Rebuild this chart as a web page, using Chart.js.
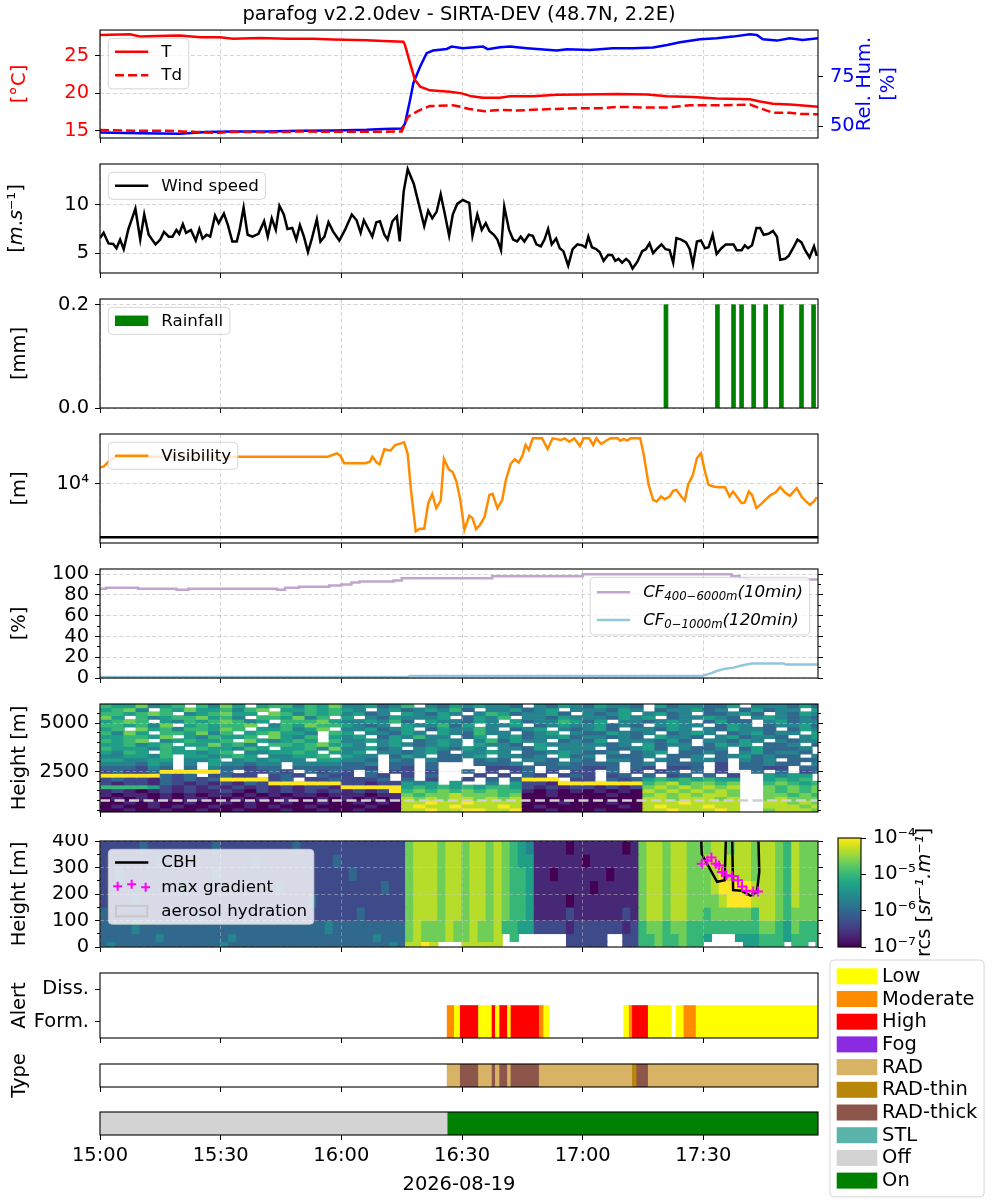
<!DOCTYPE html>
<html>
<head>
<meta charset="utf-8">
<title>parafog v2.2.0dev - SIRTA-DEV</title>
<script src="https://cdn.jsdelivr.net/npm/chart.js@4.4.1/dist/chart.umd.min.js"></script>
<style>
html, body { margin: 0; padding: 0; background: #fff; }
#fig { position: relative; width: 1000px; height: 1200px; overflow: hidden; background: #fff; }
#fig canvas { position: absolute; }
</style>
</head>
<body>
<div id="fig"></div>
<script>
// ======================= DATA =======================
const TITLE = 'parafog v2.2.0dev - SIRTA-DEV (48.7N, 2.2E)';
const DATE_LABEL = '2026-08-19';
const X_MAX = 178.5;                       // minutes after 15:00
const timeTicks = [0, 30, 60, 90, 120, 150];
const timeLabels = ['15:00', '15:30', '16:00', '16:30', '17:00', '17:30'];

// Temperature / dew point [°C], relative humidity [%]
const tempT = [0,7.5,9.9,16.6,19.9,24.9,29.8,33.1,39.8,46.4,53.0,58.0,66.3,70.4,75.4,75.8,77.1,78.3,79.6,82.0,87.0,89.9,92.4,95.2,99.4,101.9,107.6,113.6,120.1,128.5,136.0,141.0,147.4,153.3,161.6,164.1,167.3,171.5,174.0,178.5];
const tempV = [27.8,27.9,27.6,27.7,27.75,27.5,27.5,27.3,27.4,27.3,27.3,27.2,27.1,27.0,26.9,26.5,24.0,21.8,20.9,20.4,20.2,20.0,19.6,19.4,19.4,19.6,19.6,19.8,19.85,19.9,19.85,19.6,19.5,19.3,19.2,18.9,18.6,18.5,18.4,18.2];
const tdT = [0,8.2,16.7,29.1,33.1,41.5,49.7,58.0,66.4,75.0,76.6,79.6,82.0,87.8,89.8,91.8,95.7,99.4,103.6,107.6,111.9,118.6,124.3,128.5,136.7,140.9,146.6,153.3,161.6,164.1,167.3,171.5,174.0,178.5];
const tdV = [15.1,15.0,15.0,14.7,14.85,14.8,14.9,14.85,14.85,14.9,16.9,17.8,18.3,18.4,18.2,17.9,17.6,17.8,17.7,17.8,17.9,18.0,18.0,18.2,18.1,18.1,18.4,18.4,18.5,18.0,17.4,17.4,17.25,17.2];
const rhT = [0,9.9,19.9,26.5,33.1,41.4,49.7,58.0,66.3,70.4,75.0,75.8,77.1,77.9,79.6,81.2,82.8,86.2,87.4,90.2,95.2,96.4,99.4,101.9,106.1,113.6,116.1,121.8,127.5,132.5,137.5,141.0,144.2,149.2,153.3,157.3,161.6,163.3,164.8,168.3,171.5,174.7,178.5];
const rhV = [47.0,46.6,46.3,47.2,47.5,47.5,47.8,48.0,48.3,48.7,49.0,51.2,63.4,71.7,80.0,86.7,88.0,88.8,90.0,89.2,90.0,88.7,89.7,90.0,89.2,88.0,88.7,88.3,89.2,89.2,89.5,90.8,92.2,93.7,94.2,95.0,96.2,95.8,93.7,93.0,94.2,93.3,94.2];

// Wind speed [m/s]
const windT = [0,0.9,2.1,3.3,4.1,5.0,5.9,7.0,8.8,10.0,11.0,12.1,13.8,15.0,15.9,17.1,18.0,19.0,19.7,20.6,21.4,22.6,23.8,24.7,25.5,26.5,27.4,28.6,29.5,30.8,31.8,32.9,34.0,34.7,35.7,36.7,37.9,39.4,40.8,41.7,42.7,43.7,44.6,45.7,46.6,47.8,48.8,49.7,50.7,51.7,52.7,53.9,54.8,55.8,56.8,58.0,59.5,60.9,62.6,63.8,64.8,65.6,66.6,67.7,68.7,69.6,70.7,71.5,72.7,73.8,74.5,75.5,76.5,78.0,79.3,80.6,81.6,82.6,83.7,84.7,85.7,86.8,87.7,88.8,90.2,91.2,91.8,92.6,93.8,94.9,95.9,96.8,97.9,98.8,99.7,100.5,101.7,102.7,103.7,104.6,105.5,106.6,107.6,108.5,109.6,110.5,111.4,112.3,113.4,114.3,115.2,116.4,117.5,118.7,119.9,120.7,121.4,122.3,123.4,124.2,125.2,126.3,127.3,128.1,128.9,129.8,130.8,131.6,132.4,133.6,134.8,135.7,136.6,137.5,138.6,139.6,140.6,141.6,142.5,143.3,144.5,145.7,146.6,147.4,148.4,149.4,150.4,151.3,152.3,153.3,154.5,155.6,156.6,157.5,158.3,159.5,160.3,161.1,162.1,163.2,164.1,165.0,166.2,167.3,168.3,169.1,170.3,171.2,172.3,173.4,174.4,175.3,176.4,177.5,178.2];
const windV = [6.55,7.1,6.0,5.95,5.5,6.4,5.4,7.4,9.6,6.4,9.0,6.9,5.9,6.4,7.2,6.7,6.7,7.4,7.0,8.0,7.1,7.4,6.3,7.5,6.5,6.9,6.7,8.9,8.1,9.1,7.9,6.2,6.2,7.4,9.7,6.9,6.7,7.0,8.3,6.7,8.6,7.4,9.9,9.0,7.5,7.6,6.4,7.9,6.7,5.1,6.55,8.5,6.2,6.7,8.2,7.2,6.3,7.4,9.0,8.4,7.1,8.4,7.6,6.7,8.2,8.3,6.9,6.4,8.3,8.8,6.2,11.4,13.7,12.2,10.0,7.8,9.4,8.6,9.3,11.1,9.1,6.8,9.0,10.1,10.5,10.3,10.2,6.8,9.0,7.4,8.1,7.3,6.9,6.4,5.3,9.8,7.4,6.4,6.2,6.7,6.2,6.9,6.8,5.9,5.7,6.4,7.5,5.9,6.5,5.5,5.2,3.7,5.4,5.9,5.8,5.6,6.7,5.6,5.4,5.1,4.2,4.8,4.8,4.2,4.4,4.0,4.4,4.1,3.4,4.1,5.2,5.4,6.0,5.0,5.5,5.9,5.4,5.3,4.0,6.55,6.4,6.1,5.4,3.8,6.2,6.3,5.5,5.6,6.9,4.9,5.5,5.9,5.9,5.9,5.3,5.3,5.8,5.5,5.8,7.6,7.6,6.9,7.0,7.3,6.7,4.3,4.4,4.7,5.5,6.4,6.1,5.3,4.55,5.7,4.7];

// Rainfall [mm]
const rainT = [140.7,153.5,157.5,159.5,162.5,165.5,169.4,174.4,177.4];
const rainV = [0.2,0.2,0.2,0.2,0.2,0.2,0.2,0.2,0.2];

// Visibility [m]
const visT = [0,0.9,2.1,3.9,32.6,56.6,57.8,58.9,59.8,60.7,66.0,67.1,67.7,68.7,69.5,70.7,72.2,73.4,74.8,75.6,76.5,77.3,78.5,79.5,80.6,81.6,82.6,83.6,84.7,85.5,86.7,87.7,88.6,89.5,90.6,91.8,92.6,93.5,94.5,95.6,96.8,97.6,98.8,100.0,100.9,102.1,103.1,104.1,105.0,105.8,106.6,107.6,109.9,111.3,112.5,114.6,115.5,116.7,117.9,119.3,120.2,121.6,122.6,123.4,124.6,126.1,126.9,128.7,129.3,130.2,131.0,131.9,134.3,135.2,136.4,137.5,138.4,139.5,140.4,141.6,142.5,143.3,144.5,145.4,146.2,147.4,148.4,149.4,150.4,151.3,152.5,153.6,155.4,156.5,157.4,158.3,159.5,160.3,161.3,162.1,163.2,164.4,165.6,166.8,167.9,169.1,170.3,171.5,173.2,174.4,175.5,176.5,177.5,178.2];
const visV = [12880,13010,14030,15140,15140,15140,15530,15930,15300,13690,13690,14030,15140,13900,13480,16930,16590,18070,18530,18830,15770,9130,4850,5050,5050,7460,8550,6910,7760,14620,12500,11940,10360,8040,4970,6150,5940,5020,5370,6030,8460,8590,6910,7850,10620,13550,14550,13830,15300,18070,16750,20000,20000,17010,20000,19500,20000,19010,20000,17810,20000,20000,18070,20000,18360,19500,20000,20000,19310,19800,19310,20000,20000,15530,9850,7850,7650,8250,7920,8250,8990,9130,8250,7760,9850,11460,14760,15930,12060,9850,9600,9510,9510,8250,8900,8250,7460,7530,8900,8460,6910,7380,7920,8460,8770,9510,8770,8340,9360,8250,7650,7270,7650,8170];
const visLimit = 4430;

// Cloud fraction [%]
const cfHighT = [0,1.5,9.5,19,22,44,46,49.5,57,60,62.5,64.5,73,75,97.5,120,138,157,159,161,162,178.5];
const cfHighV = [87,86,87,86,85,86,85,87,88,89,90,92,93,94,96,98,100,100,98,96,95,95];
const cfLowT = [0,76.5,77,149.5,151.5,153.5,155.5,157.5,159.5,162,170,170.5,178.5];
const cfLowV = [1,1,2,2,4,7,9,10,12,14,14,13,13];

// Backscatter (rcs) level codes: 0 = 1e-7 ... 9 = 1e-4 (1/3 decade per step), '.' = no data
const heatUpColMin = 3;
const heatUpEdges = [6000,5800,5600,5400,5200,5000,4800,4600,4400,4200,4000,3800,3600,3400,3200,3000,2800,2600,2400,2200,2000,1800,1600,1400,1200,1000,800,600,400];
const heatUpRows = [
  ['6557456.6475.5664657','445346.43545443.4354','35443.5344335.444353'],
  ['5674.657556467.55656','54.45345463.445345.4','44354.344534.35344.5'],
  ['665676.456755.764656','4534.54354.46534453.','4345.4534.33453.4354'],
  ['75.645667564.665746.','5.4354445.3546.44354','443545.344543.454343'],
  ['5676.546567645.66675','445463.544354.534465','35.443454.3533.45344'],
  ['665647.565667.465766','5434.544635.445.3454','45343.4544.354.34453'],
  ['56.756466576.556457.','445345.354464.345.43','453.44354.435443.354'],
  ['6475.665746.567554.6','5.44354.543644.345.4','335434.3454.345344.5'],
  ['556657.546556.7546.5','45.354644.35.4534453','44343.5443.453443.45'],
  ['6567.456556.754565.6','44545.3454.463544.34','35.444353.44354.4344'],
  ['556456.557564.665675','54.4543454.5443.5444','4434.5344.3545.334.3'],
  ['6555465.655465.55647','44534.454354.4435.44','4.33453.4334.3533 4.4'.replace(' ', '3')],
  ['5465.655456.445565.5','45.443453.4454.33454','334.345.3343.453443.'],
  ['445546.554565.44556.','544.354.3345.4434.53','4.3334.334.3453433.4'],
  ['554455.445.454544.55','443.43.433.343.443.4','3.443.43.443.434.333'],
  ['444354.4.544344.4444','334.33.3...3334.3343','333.34.333.2.33433.4'],
  ['333243.3.433233.3333','332.32.3....2223.333','223.32.223.2.3322.33'],
  ['23223999993.2232.323','2.3.22.2..3.2.23.2.2','2.3.2.23.3.2..3.3.23'],
  ['99999323.2322.232.32','2.32.2.3...2.2.32.23','2.23.3.23.3.2..5455.'],
  ['2322132323999923.223','2223.3.2..2.3.3999.2','2.32356565655..5656.'],
  ['21221321212132999999','22122545.5..4.522199','9999967867767..67656'],
  ['66665212121212121221','99999565656566521212','2121278787878..76767'],
  ['12101212112102121212','12129676767676610101','0101087878787..76767'],
  ['10110101011010101101','11011767787776700100','0010078787887..77676'],
  ['01010101100101010010','10101878788787800000','0000088788878..78777'],
  ['00101001001010010010','01010889889888800010','0010088898888..88787'],
  ['01001010010010100100','00100898898889801000','0001089888988..88878'],
  ['00100100100100010010','01000889889988900100','0100088988898..78887']
].map(r => r.join(''));
const heatUpRefLine = 1000;

const heatLowColMin = 2;
const heatLowEdges = [400,350,300,250,200,150,100,50,20,0];
const heatLowRows = [
  ['2222232222','2222322222','2222322222','22222222','7888788788787654','1111011111101','78878877','7887887','88768777'],
  ['2222222322','2222222223','2222222223','22222222','7888788788787655','1111110111111','78878877','8888887','88768777'],
  ['2232222222','2222322222','2222222222','23222222','7888788788787665','1101111110111','78878877','7898887','88768777'],
  ['2222222222','3222222222','2232222222','22222322','7888788788787665','1111111011111','78878877','7899998','88768777'],
  ['2222322222','2222222222','2222223222','22222222','7888788788787665','1111011111111','78878877','7789998','88768777'],
  ['3222222222','2232222222','2222222222','22322222','7888788788787665','1111211111121','78878877','6777776','88767777'],
  ['3333433333','3333333333','3333333343','33333333','7877787787786655','2222122222212','67767766','6666666','77657666'],
  ['3333333433','3333334333','3333333333','33334333','787778778778.6..','....22222..22','66766766','5...555','66656666'],
  ['3433333333','3333343333','3333333333','33333343','8898...88888....','....22222..22','66766766','.....55','666.66.6']
].map(r => r.join(''));

// Cloud base height and max gradient [m]
const cbhT = [149.3,149.6,153.4,155.3,155.7,156.4,157.1,157.4,159.5,161.7,163.3,163.9,163.6];
const cbhH = [460,351,246,252,460,null,460,215,212,194,208,283,460];
const gradT = [149.6,151.0,152.0,153.1,153.9,154.6,155.7,157.1,158.6,159.6,160.7,162.4,163.6];
const gradH = [314,326,338,314,308,283,271,268,252,228,212,209,209];

// Alert / type / state segments [start, end] in minutes after 15:00
const alertLowSegs = [[88.1,89.4],[94.1,97.3],[98.3,99.2],[101.3,102.0],[110.3,111.6],[130.2,131.4],[136.3,142.0],[143.2,145.0],[148.2,178.5]];
const alertModerateSegs = [[86.3,88.1],[109.2,110.3],[131.4,132.2],[145.0,148.2]];
const alertHighSegs = [[89.4,94.1],[97.3,98.3],[99.2,101.3],[102.0,109.2],[132.2,136.3]];
const typeRadSegs = [[86.3,89.4],[94.1,97.3],[98.3,99.2],[101.3,102.0],[109.2,132.2],[136.3,178.5]];
const typeRadThinSegs = [[132.2,133.3]];
const typeRadThickSegs = [[89.4,94.1],[97.3,98.3],[99.2,101.3],[102.0,109.2],[133.3,136.3]];
const stateOffSegs = [[0,86.3]];
const stateOnSegs = [[86.3,178.5]];

const alertCategories = ['Diss.', 'Form.'];
const legendLabels = ['Low','Moderate','High','Fog','RAD','RAD-thin','RAD-thick','STL','Off','On'];
const legendColors = ['#ffff00','#ff8c00','#ff0000','#8a2be2','#d8b365','#b8860b','#8c564b','#5ab4ac','#d3d3d3','#008000'];
const colorbarTicks = [1e-7, 1e-6, 1e-5, 1e-4];

// ======================= STYLE / HELPERS =======================
const FS = 19.44, LFS = 16.67;
const PXM = 718 / X_MAX;
const GRID = 'rgba(176,176,176,0.55)';
const HGRID = 'rgba(205,205,205,0.45)';
const DASH = [4, 2.5];
Chart.defaults.font.family = 'DejaVu Sans';
Chart.defaults.font.size = FS;
Chart.defaults.color = '#000';
Chart.defaults.animation = false;
Chart.defaults.responsive = false;
Chart.defaults.events = [];
Chart.defaults.plugins.legend.display = false;
Chart.defaults.plugins.tooltip.enabled = false;
Chart.defaults.elements.point.radius = 0;
Chart.defaults.elements.point.hoverRadius = 0;

const VIR = [[68,1,84],[72,24,106],[71,45,123],[66,64,134],[59,82,139],[51,99,141],[44,114,142],[38,130,142],[33,145,140],[31,160,136],[40,174,128],[63,188,115],[94,201,98],[132,212,75],[173,220,48],[216,226,25],[253,231,37]];
function viridis(f) {
  f = Math.max(0, Math.min(1, f));
  const p = f * 16, i = Math.min(15, Math.floor(p)), r = p - i, a = VIR[i], b = VIR[i + 1];
  return 'rgb(' + [0, 1, 2].map(k => Math.round(a[k] + (b[k] - a[k]) * r)).join(',') + ')';
}
const SUPS = {'-': '⁻', '0': '⁰', '1': '¹', '2': '²', '3': '³', '4': '⁴', '5': '⁵', '6': '⁶', '7': '⁷', '8': '⁸', '9': '⁹'};
const sup = s => String(s).split('').map(c => SUPS[c] || c).join('');

const fig = document.getElementById('fig');
function mk(top, height, left = 0, width = 1000) {
  const c = document.createElement('canvas');
  c.width = width; c.height = height;
  c.style.left = left + 'px'; c.style.top = top + 'px';
  c.style.width = width + 'px'; c.style.height = height + 'px';
  fig.appendChild(c);
  return c.getContext('2d');
}
const pts = (ts, vs) => ts.map((t, i) => ({x: t, y: vs[i]}));
const segData = (list, cat) => list.map(s => ({x: s, y: cat}));

function xAxis(h, o = {}) {
  return {
    type: 'linear', position: 'bottom', min: 0, max: X_MAX, offset: false, weight: 1,
    afterBuildTicks: s => { s.ticks = timeTicks.map(v => ({value: v})); },
    ticks: {display: !!o.labels, autoSkip: false, maxRotation: 0, minRotation: 0, padding: 4, color: '#000', font: {size: FS},
      callback: v => { const i = timeTicks.indexOf(v); return i >= 0 ? timeLabels[i] : ''; }},
    grid: {display: true, drawOnChartArea: !!o.grid, color: o.gridColor || GRID, tickColor: '#000', tickLength: 5, offset: false, z: o.gridZ != null ? o.gridZ : -1},
    border: {display: false, dash: DASH},
    title: {display: !!o.labels, text: DATE_LABEL, color: '#000', font: {size: FS}, padding: {top: 0, bottom: 3.4}},
    afterFit: s => { s.height = h; s.paddingLeft = 0; s.paddingRight = 0; s.paddingTop = 0; s.paddingBottom = 0; }
  };
}
function yAxis(o) {
  const right = o.pos === 'right';
  const ticks = {display: o.showLabels !== false, color: o.color || '#000', padding: right ? 7 : 6, autoSkip: false, maxRotation: 0, font: {size: FS}};
  if (o.type !== 'category') ticks.callback = o.fmt || (v => String(v));
  const ax = {
    type: o.type || 'linear', position: right ? 'right' : 'left', weight: o.weight != null ? o.weight : 1,
    offset: !!o.offset, ticks,
    grid: {display: o.gridDisplay !== false, drawOnChartArea: !!o.grid, drawTicks: true, color: o.gridColor || GRID, tickColor: '#000', tickLength: o.tickLength || 5, offset: false, z: o.gridZ != null ? o.gridZ : -1},
    border: {display: false, dash: DASH},
    title: {display: !!o.title, text: o.title || '', color: o.titleColor || o.color || '#000', font: {size: FS}, padding: {top: 8, bottom: 0}},
    afterFit: s => { s.width = o.width != null ? o.width : (right ? 182 : 100); s.paddingTop = 0; s.paddingBottom = 0; s.paddingLeft = 0; s.paddingRight = 0; }
  };
  if (o.min != null) ax.min = o.min;
  if (o.max != null) ax.max = o.max;
  if (o.labels) ax.labels = o.labels;
  if (o.ticksAt) ax.afterBuildTicks = s => { s.ticks = o.ticksAt.map(v => ({value: v})); };
  return ax;
}
const minorAxis = (pos, min, max, vals, type) => yAxis({pos, min, max, type, ticksAt: vals, showLabels: false, tickLength: 3, width: 0, weight: 0});
const mirrorAxis = (min, max, vals, type) => yAxis({pos: 'right', min, max, type, ticksAt: vals, showLabels: false, width: 182, weight: 1});

function barDs(label, data, color, extra) {
  return Object.assign({type: 'bar', label, data, backgroundColor: color, borderWidth: 0, barPercentage: 1, categoryPercentage: 1, grouped: false}, extra || {});
}
function heatDatasets(rows, edges, col, name) {
  return rows.map((row, k) => barDs(name + ' ' + edges[k + 1] + '-' + edges[k] + ' m',
    row.split('').map((ch, c) => ch === '.' ? null : {x: c * col + col / 2, y: [edges[k + 1], edges[k]], v: Number(ch)}).filter(d => d),
    c => (c.raw && c.raw.v != null) ? viridis(c.raw.v / 9) : 'rgba(0,0,0,0)',
    {barThickness: col * PXM + 0.6, order: 5}));
}

// ---------- plugins ----------
const framePlugin = {
  id: 'frame',
  afterDraw(chart) {
    const {ctx, chartArea: a} = chart;
    ctx.save(); ctx.strokeStyle = '#000'; ctx.lineWidth = 1.1; ctx.setLineDash([]);
    ctx.strokeRect(a.left, a.top, a.right - a.left, a.bottom - a.top);
    ctx.restore();
  }
};
function parseLabel(s) {
  const out = [], re = /_\{([^}]*)\}/g; let last = 0, m;
  while ((m = re.exec(s))) {
    if (m.index > last) out.push({t: s.slice(last, m.index), sub: false});
    out.push({t: m[1], sub: true}); last = re.lastIndex;
  }
  if (last < s.length) out.push({t: s.slice(last), sub: false});
  return out;
}
const lfont = (fs, sub, it) => (it ? 'italic ' : '') + (sub ? fs * 0.7 : fs) + 'px "DejaVu Sans"';
function labelWidth(ctx, s, fs, it) {
  return parseLabel(s).reduce((w, p) => { ctx.font = lfont(fs, p.sub, it); return w + ctx.measureText(p.t).width; }, 0);
}
function drawLabel(ctx, s, x, y, fs, it) {
  ctx.textBaseline = 'middle'; ctx.textAlign = 'left'; ctx.fillStyle = '#000';
  parseLabel(s).forEach(p => { ctx.font = lfont(fs, p.sub, it); ctx.fillText(p.t, x, p.sub ? y + fs * 0.28 : y); x += ctx.measureText(p.t).width; });
}
function drawHandle(ctx, it, x, cy, L) {
  ctx.save();
  if (it.kind === 'line') {
    ctx.strokeStyle = it.color; ctx.lineWidth = 2.5; ctx.setLineDash(it.dash || []);
    ctx.beginPath(); ctx.moveTo(x, cy); ctx.lineTo(x + L.hl, cy); ctx.stroke();
  } else if (it.kind === 'patch') {
    ctx.fillStyle = it.color; ctx.fillRect(x, cy - L.patchH / 2, L.hl, L.patchH);
  } else if (it.kind === 'outline') {
    ctx.strokeStyle = it.color; ctx.lineWidth = 2; ctx.strokeRect(x + 1, cy - L.patchH / 2, L.hl - 2, L.patchH);
  } else if (it.kind === 'cross') {
    ctx.strokeStyle = it.color; ctx.lineWidth = 2;
    [[0.08, -0.5], [0.5, -2.5], [0.92, 0.5]].forEach(([f, dy]) => {
      const px = x + f * L.hl, py = cy + dy;
      ctx.beginPath(); ctx.moveTo(px - 4.5, py); ctx.lineTo(px + 4.5, py); ctx.moveTo(px, py - 4.5); ctx.lineTo(px, py + 4.5); ctx.stroke();
    });
  }
  ctx.restore();
}
function makeLegend(L) {
  return {
    id: 'mplLegend',
    afterDraw(chart) {
      const ctx = chart.ctx, a = chart.chartArea;
      ctx.save();
      const tw = Math.max(...L.items.map(it => labelWidth(ctx, it.label, L.fs, L.italic)));
      const w = L.padX * 2 + L.hl + L.hp + tw, h = L.first * 2 + (L.items.length - 1) * L.step;
      let x0, y0;
      if (L.loc === 'ul') { x0 = a.left + L.off; y0 = a.top + L.off; }
      else if (L.loc === 'ur') { x0 = a.right - L.off - w; y0 = a.top + L.off; }
      else { x0 = L.x; y0 = L.y; }
      ctx.beginPath();
      if (ctx.roundRect) ctx.roundRect(x0, y0, w, h, 4); else ctx.rect(x0, y0, w, h);
      ctx.fillStyle = 'rgba(255,255,255,0.8)'; ctx.fill();
      ctx.strokeStyle = 'rgba(204,204,204,0.8)'; ctx.lineWidth = 1; ctx.stroke();
      L.items.forEach((it, i) => {
        const cy = y0 + L.first + i * L.step, hx = x0 + L.padX;
        drawHandle(ctx, it, hx, cy, L);
        drawLabel(ctx, it.label, hx + L.hl + L.hp, cy + 0.5, L.fs, L.italic);
      });
      ctx.restore();
    }
  };
}
const smallLeg = (loc, items, extra) => makeLegend(Object.assign({loc, items, fs: LFS, padX: 6.7, hl: 33.3, hp: 13, first: 13.5, step: 23.5, off: 8.3, patchH: 10.5}, extra || {}));
function makeRot(items) {
  return {
    id: 'rotText',
    afterDraw(chart) {
      const ctx = chart.ctx;
      items.forEach(it => {
        ctx.save(); ctx.translate(it.x, it.y); ctx.rotate(-Math.PI / 2);
        ctx.fillStyle = it.color || '#000'; ctx.textBaseline = 'middle'; ctx.textAlign = 'left';
        const fonts = it.segs.map(s => (s.it ? 'italic ' : '') + FS + 'px "DejaVu Sans"');
        const ws = it.segs.map((s, i) => { ctx.font = fonts[i]; return ctx.measureText(s.t).width; });
        let x = -ws.reduce((p, q) => p + q, 0) / 2;
        it.segs.forEach((s, i) => { ctx.font = fonts[i]; ctx.fillText(s.t, x, 0); x += ws[i]; });
        ctx.restore();
      });
    }
  };
}
const cbarPlugin = {
  id: 'cbar',
  beforeDatasetsDraw(chart) {
    const a = chart.chartArea, ctx = chart.ctx;
    const g = ctx.createLinearGradient(0, a.bottom, 0, a.top);
    VIR.forEach((c, i) => g.addColorStop(i / 16, 'rgb(' + c.join(',') + ')'));
    ctx.save(); ctx.fillStyle = g; ctx.fillRect(a.left, a.top, a.right - a.left, a.bottom - a.top); ctx.restore();
  }
};

// ======================= CHARTS =======================
// 1. Temperature / RH
new Chart(mk(0, 148), {
  type: 'line',
  data: {datasets: [
    {label: 'T', data: pts(tempT, tempV), borderColor: '#ff0000', borderWidth: 2.5, yAxisID: 'y'},
    {label: 'Td', data: pts(tdT, tdV), borderColor: '#ff0000', borderWidth: 2.5, borderDash: [9, 4], yAxisID: 'y'},
    {label: 'Rel. Hum.', data: pts(rhT, rhV), borderColor: '#0000ff', borderWidth: 2.5, yAxisID: 'y2'}
  ]},
  options: {
    layout: {padding: 0},
    scales: {
      x: xAxis(10, {grid: true}),
      y: yAxis({min: 14.03, max: 28.47, ticksAt: [15, 20, 25], color: '#ff0000', title: '[°C]', grid: true}),
      y2: yAxis({pos: 'right', min: 44.2, max: 98.3, ticksAt: [50, 75], color: '#0000ff'})
    },
    plugins: {title: {display: true, text: TITLE, fullSize: false, color: '#000', font: {size: FS, weight: 'normal'}, padding: {top: 3, bottom: 3.7}}}
  },
  plugins: [framePlugin,
    smallLeg('ul', [{label: 'T', kind: 'line', color: '#ff0000'}, {label: 'Td', kind: 'line', color: '#ff0000', dash: [9, 4]}]),
    makeRot([{x: 865, y: 84, color: '#0000ff', segs: [{t: 'Rel. Hum.'}]}, {x: 889, y: 84, color: '#0000ff', segs: [{t: '[%]'}]}])]
});

// 2. Wind speed
new Chart(mk(160, 123), {
  type: 'line',
  data: {datasets: [{label: 'Wind speed', data: pts(windT, windV), borderColor: '#000', borderWidth: 2.5}]},
  options: {
    layout: {padding: {top: 4, right: 182}},
    scales: {x: xAxis(10, {grid: true}), y: yAxis({min: 2.93, max: 14.24, ticksAt: [5, 10], grid: true})}
  },
  plugins: [framePlugin, smallLeg('ul', [{label: 'Wind speed', kind: 'line', color: '#000'}]),
    makeRot([{x: 17, y: 58.5, segs: [{t: '['}, {t: 'm', it: true}, {t: '.'}, {t: 's', it: true}, {t: '⁻¹'}, {t: ']'}]}])]
});

// 3. Rainfall
new Chart(mk(295, 123), {
  type: 'bar',
  data: {datasets: [barDs('Rainfall', pts(rainT, rainV), '#008000', {barThickness: 4})]},
  options: {
    layout: {padding: {top: 4, right: 182}},
    scales: {x: xAxis(10, {grid: true}), y: yAxis({min: 0, max: 0.211, ticksAt: [0, 0.2], fmt: v => v.toFixed(1), grid: true, title: '[mm]'})}
  },
  plugins: [framePlugin, smallLeg('ul', [{label: 'Rainfall', kind: 'patch', color: '#008000'}])]
});

// 4. Visibility
new Chart(mk(430, 123), {
  type: 'line',
  data: {datasets: [
    {label: 'Visibility', data: pts(visT, visV), borderColor: '#ff8c00', borderWidth: 2.5},
    {label: 'fog visibility limit', data: pts([0, X_MAX], [visLimit, visLimit]), borderColor: '#000', borderWidth: 2.5}
  ]},
  options: {
    layout: {padding: {top: 4}},
    scales: {
      x: xAxis(10, {grid: true}),
      y: yAxis({type: 'logarithmic', min: 4064, max: 21370, ticksAt: [10000], fmt: () => '10' + sup(4), grid: true, title: '[m]'}),
      yR: mirrorAxis(4064, 21370, [10000], 'logarithmic')
    }
  },
  plugins: [framePlugin, smallLeg('ul', [{label: 'Visibility', kind: 'line', color: '#ff8c00'}])]
});

// 5. Cloud fraction
new Chart(mk(565, 123), {
  type: 'line',
  data: {datasets: [
    {label: 'CF 400-6000m (10min)', data: pts(cfHighT, cfHighV), borderColor: '#c2a5cf', borderWidth: 2.5, stepped: 'after'},
    {label: 'CF 0-1000m (120min)', data: pts(cfLowT, cfLowV), borderColor: '#92c5de', borderWidth: 2.5}
  ]},
  options: {
    layout: {padding: {top: 4}},
    scales: {
      x: xAxis(10, {grid: true}),
      y: yAxis({min: 0, max: 105, ticksAt: [0, 20, 40, 60, 80, 100], grid: true, title: '[%]'}),
      yMinL: minorAxis('left', 0, 105, [10, 30, 50, 70, 90]),
      yR: mirrorAxis(0, 105, [0, 20, 40, 60, 80, 100]),
      yMinR: minorAxis('right', 0, 105, [10, 30, 50, 70, 90])
    }
  },
  plugins: [framePlugin, smallLeg('ur', [
    {label: 'CF_{400−6000m}(10min)', kind: 'line', color: '#c2a5cf'},
    {label: 'CF_{0−1000m}(120min)', kind: 'line', color: '#92c5de'}], {italic: true, first: 15, step: 27.6})]
});

// 6. Backscatter 400-6000 m
new Chart(mk(700, 122), {
  type: 'bar',
  data: {datasets: [
    {type: 'line', label: '1000 m', data: pts([0, X_MAX], [heatUpRefLine, heatUpRefLine]), borderColor: '#d0d0d0', borderWidth: 2.5, borderDash: [10, 4.5], order: 0}
  ].concat(heatDatasets(heatUpRows, heatUpEdges, heatUpColMin, 'rcs'))},
  options: {
    layout: {padding: {top: 4}},
    scales: {
      x: xAxis(10, {grid: true, gridColor: HGRID, gridZ: 1}),
      y: yAxis({min: 400, max: 6000, ticksAt: [2500, 5000], grid: true, gridColor: HGRID, gridZ: 1, title: 'Height [m]'}),
      yMinL: minorAxis('left', 400, 6000, [500, 1000, 1500, 2000, 3000, 3500, 4000, 4500, 5500]),
      yR: mirrorAxis(400, 6000, [2500, 5000]),
      yMinR: minorAxis('right', 400, 6000, [500, 1000, 1500, 2000, 3000, 3500, 4000, 4500, 5500])
    }
  },
  plugins: [framePlugin]
});

// 7. Backscatter 0-400 m
new Chart(mk(834, 123), {
  type: 'bar',
  data: {datasets: [
    {type: 'line', label: 'CBH', data: pts(cbhT, cbhH), borderColor: '#000', borderWidth: 2.5, order: 0},
    {type: 'line', label: 'max gradient', data: pts(gradT, gradH), showLine: false, pointStyle: 'cross', pointRadius: 5, pointBorderWidth: 2, pointBorderColor: '#ff00ff', borderColor: '#ff00ff', order: -1}
  ].concat(heatDatasets(heatLowRows, heatLowEdges, heatLowColMin, 'rcs'))},
  options: {
    layout: {padding: {top: 4}},
    scales: {
      x: xAxis(10, {grid: true, gridColor: HGRID, gridZ: 1}),
      y: yAxis({min: 0, max: 400, ticksAt: [0, 100, 200, 300, 400], grid: true, gridColor: HGRID, gridZ: 1, title: 'Height [m]'}),
      yMinL: minorAxis('left', 0, 400, [50, 150, 250, 350]),
      yR: mirrorAxis(0, 400, [0, 100, 200, 300, 400]),
      yMinR: minorAxis('right', 0, 400, [50, 150, 250, 350])
    }
  },
  plugins: [framePlugin, smallLeg('ul', [
    {label: 'CBH', kind: 'line', color: '#000'},
    {label: 'max gradient', kind: 'cross', color: '#ff00ff'},
    {label: 'aerosol hydration', kind: 'outline', color: '#c8c8c8'}], {step: 24.3, first: 13.2})]
});

// 8. Colorbar
new Chart(mk(825, 140, 800, 200), {
  type: 'scatter',
  data: {datasets: []},
  options: {
    layout: {padding: {left: 38, top: 13, bottom: 18, right: 0}},
    scales: {
      x: {display: false, min: 0, max: 1},
      y: yAxis({pos: 'right', type: 'logarithmic', min: 1e-7, max: 1e-4, ticksAt: colorbarTicks, fmt: v => '10' + sup(Math.round(Math.log10(v))), width: 139})
    }
  },
  plugins: [cbarPlugin, framePlugin,
    makeRot([{x: 125, y: 67.5, segs: [{t: 'rcs ['}, {t: 'sr⁻¹.m⁻¹', it: true}, {t: ']'}]}])]
});

// 9. Alert
new Chart(mk(969, 79), {
  type: 'bar',
  data: {datasets: [
    barDs(legendLabels[0], segData(alertLowSegs, 'Form.'), legendColors[0]),
    barDs(legendLabels[1], segData(alertModerateSegs, 'Form.'), legendColors[1]),
    barDs(legendLabels[2], segData(alertHighSegs, 'Form.'), legendColors[2])
  ]},
  options: {
    indexAxis: 'y',
    layout: {padding: {top: 4, right: 182}},
    scales: {x: xAxis(10), y: yAxis({type: 'category', labels: alertCategories, offset: true, title: 'Alert'})}
  },
  plugins: [framePlugin]
});

// 10. Type
new Chart(mk(1040, 72), {
  type: 'bar',
  data: {datasets: [
    barDs(legendLabels[4], segData(typeRadSegs, 'type'), legendColors[4]),
    barDs(legendLabels[5], segData(typeRadThinSegs, 'type'), legendColors[5]),
    barDs(legendLabels[6], segData(typeRadThickSegs, 'type'), legendColors[6])
  ]},
  options: {
    indexAxis: 'y',
    layout: {padding: {top: 24, right: 182, bottom: 15}},
    scales: {x: xAxis(10), y: yAxis({type: 'category', labels: ['type'], offset: true, showLabels: false, gridDisplay: false, title: 'Type'})}
  },
  plugins: [framePlugin]
});

// 11. On / Off + global legend
new Chart(mk(955, 245), {
  type: 'bar',
  data: {datasets: [
    barDs(legendLabels[8], segData(stateOffSegs, 'state'), legendColors[8]),
    barDs(legendLabels[9], segData(stateOnSegs, 'state'), legendColors[9])
  ]},
  options: {
    indexAxis: 'y',
    layout: {padding: {top: 157, right: 182}},
    scales: {x: xAxis(65, {labels: true}), y: yAxis({type: 'category', labels: ['state'], offset: true, showLabels: false, gridDisplay: false})}
  },
  plugins: [framePlugin, makeLegend({loc: 'abs', x: 830, y: 5, fs: FS, padX: 6.7, hl: 40.6, hp: 4.8, first: 16.3, step: 22.7, patchH: 16,
    items: legendLabels.map((l, i) => ({label: l, kind: 'patch', color: legendColors[i]}))})]
});
</script>
</body>
</html>
